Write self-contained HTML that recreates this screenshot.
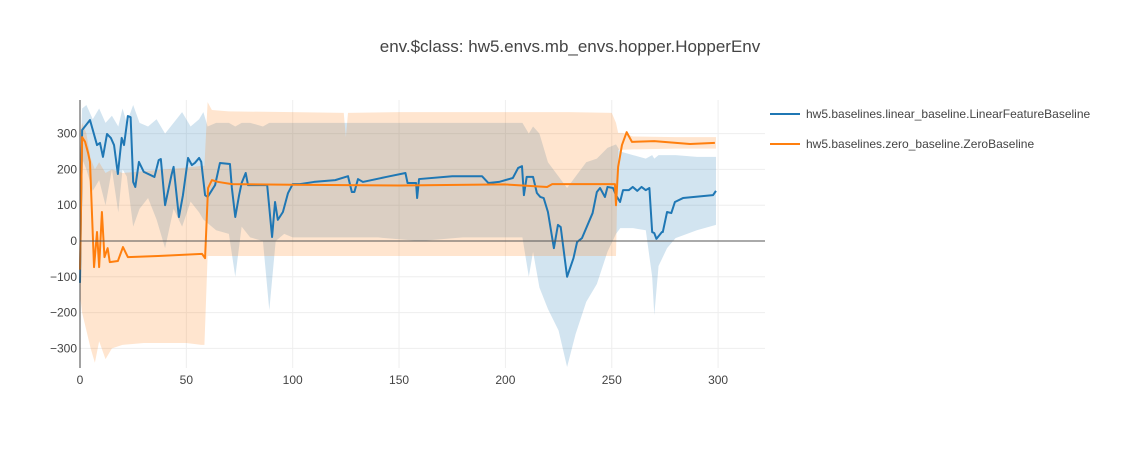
<!DOCTYPE html>
<html><head><meta charset="utf-8">
<style>
body{margin:0;background:#fff;font-family:"Liberation Sans",Arial,sans-serif;}
svg text{font-family:"Liberation Sans",Arial,sans-serif;}
</style></head>
<body>
<svg id="chart" width="1140" height="450" xmlns="http://www.w3.org/2000/svg">
<text x="570" y="52" text-anchor="middle" font-size="17" fill="#444">env.$class: hw5.envs.mb_envs.hopper.HopperEnv</text>
<g id="grid"></g>
<g id="bands"></g>
<g id="lines"></g>
<g id="axes"></g>
<g>
<g>
<line x1="770" y1="114" x2="800" y2="114" stroke="#1f77b4" stroke-width="2"/>
<text x="806" y="118" font-size="12" fill="#444">hw5.baselines.linear_baseline.LinearFeatureBaseline</text></g>
<g>
<line x1="770" y1="144" x2="800" y2="144" stroke="#ff7f0e" stroke-width="2"/>
<text x="806" y="148" font-size="12" fill="#444">hw5.baselines.zero_baseline.ZeroBaseline</text></g>
</g>
</svg>
<script>
const xTicks=[0,50,100,150,200,250,300];
const yTicks=[-300,-200,-100,0,100,200,300];
const yTickLabels=["−300","−200","−100","0","100","200","300"];
const blueX=[0,1,4.7,8,9.4,10.8,12.7,14.5,16,17.8,19.6,20.7,22.5,23.8,25,26,27.7,30,35,37,38,40,43,44,46.5,48.4,50.8,52.6,54,56,57,58.8,60,63.5,65.8,70.5,71.4,73,74.8,76,77.9,79,88,90.3,91.7,93,95.4,97.8,100,103.4,110,120,126,127.8,129,130.7,133,144,153,154,158,158.5,159.4,175,189,192,197,203.5,206,207.8,208.7,210,213,214.8,216.4,218,220,222.8,224.7,226,229,232,233.7,236,241,243,244.5,246.8,248,250.6,252,253.9,255.3,258,259.9,262,264,266,267.7,269,270,271,273.6,274,276,278,279.7,283.5,297.6,299];
const blueY=[-117,310,338,268,274,235,299,288,268,187,288,268,349,346,165,151,221,193,179,226,229,100,184,207,67,128,232,212,218,232,221,128,123,156,218,215,148,67,128,162,190,156,156,11,109,59,81,134,159,159,165,170,181,137,137,173,165,179,190,162,162,120,173,181,181,162,165,176,204,209,128,179,179,134,123,120,81,-20,45,39,-100,-48,-3,8,78,137,148,123,151,148,128,109,142,142,151,140,151,142,148,25,22,6,25,25,81,78,109,120,128,140];
const orangeX=[0,1,2.4,3.8,4.7,6.6,8,9,10.3,11.5,13,14,17.8,20.2,22.5,36.7,57.4,58.8,60.2,62,65,71.4,100,150,200,219.6,222,250,251.5,252,253,254.8,257,259.5,270,286.8,298.5];
const orangeY=[-80,290,277,246,221,-73,25,-73,81,-45,-20,-59,-56,-17,-45,-42,-36,-48,148,170,165,159,157,155,158,151,159,159,159,100,207,268,304,277,279,271,274];
const blueBandX=[0,1,3,6,9,12,15,18,20,22,25,28,32,36,40,44,48,52,56,58,60,64,70,73,76,80,86,89,92,96,100,120,140,160,180,200,208,211,213,216,220,225,229,233,238,243,248,252,254,260,266,269,270,272,276,280,290,299];
const blueBandHi=[200,370,380,340,370,330,350,320,370,330,380,330,320,340,300,330,360,320,340,360,320,330,330,320,330,330,320,330,330,330,330,330,330,330,330,330,330,300,320,300,220,180,148,180,220,230,260,270,250,240,230,240,230,240,240,240,235,235];
const blueBandLo=[-120,230,200,140,170,100,200,80,200,180,40,90,120,60,-20,90,40,110,80,60,50,30,20,-100,40,10,0,-193,0,20,10,10,10,0,10,10,10,-100,-30,-130,-190,-250,-352,-260,-170,-120,-30,20,36,36,30,-100,-207,-70,-20,8,30,45];
const orangeBandX=[0,1,3,5,7,9,12,15,20,30,40,50,57,58.5,60,62,70,100,124,125,126,150,200,230,250,252,253,255,260,280,299];
const orangeBandHi=[300,330,300,230,200,220,190,200,190,195,200,205,210,210,388,366,362,360,358,290,358,360,360,360,358,330,302,302,292,290,290];
const orangeBandLo=[-150,-200,-250,-300,-340,-280,-330,-300,-290,-285,-285,-285,-290,-290,-42,-42,-42,-42,-42,-42,-42,-42,-42,-42,-42,-42,255,255,256,258,258];

const X0=80,XS=2.127,Y0=241,YS=0.358,PT=100,PB=368,PL=80,PR=765;
const sx=v=>X0+v*XS, sy=v=>Y0-v*YS;
const NS="http://www.w3.org/2000/svg";
function mk(tag,attrs,parent){const e=document.createElementNS(NS,tag);for(const k in attrs)e.setAttribute(k,attrs[k]);parent.appendChild(e);return e;}
const grid=document.getElementById('grid'),axes=document.getElementById('axes'),bands=document.getElementById('bands'),lines=document.getElementById('lines');
xTicks.forEach(t=>{
 if(t>0){const g=mk('line',{x1:sx(t),x2:sx(t),y1:PT,y2:PB,stroke:'#eee','stroke-width':1},grid);
 
 }
 const l=mk('text',{x:sx(t),y:384,'text-anchor':'middle','font-size':12,fill:'#444'},axes);l.textContent=t;
 
 
});
yTicks.forEach((t,i)=>{
 if(t!==0){const g=mk('line',{x1:PL,x2:PR,y1:sy(t),y2:sy(t),stroke:'#eee','stroke-width':1},grid);
 
 }
 const l=mk('text',{x:PL-3,y:sy(t)+4,'text-anchor':'end','font-size':12,fill:'#444'},axes);l.textContent=yTickLabels[i];
 
 
});
function band(xs,hi,lo,color,name){
 let d='M'+xs.map((x,i)=>sx(x)+','+sy(hi[i])).join('L');
 for(let i=xs.length-1;i>=0;i--)d+='L'+sx(xs[i])+','+sy(lo[i]);
 const p=mk('path',{d:d+'Z',fill:color,'fill-opacity':0.2,stroke:'none'},bands);
 
 
}
band(blueBandX,blueBandHi,blueBandLo,'#1f77b4','band-linear-baseline');
band(orangeBandX,orangeBandHi,orangeBandLo,'#ff7f0e','band-zero-baseline');
const zl=mk('line',{x1:PL,x2:PR,y1:sy(0),y2:sy(0),stroke:'#555','stroke-width':1},axes);


const ya=mk('line',{x1:PL,x2:PL,y1:PT,y2:PB,stroke:'#444','stroke-width':1},axes);


function line(xs,ys,color,name){
 const p=mk('path',{d:'M'+xs.map((x,i)=>sx(x)+','+sy(ys[i])).join('L'),fill:'none',stroke:color,'stroke-width':2,'stroke-linejoin':'round'},lines);
 
 
}
line(blueX,blueY,'#1f77b4','line-linear-baseline');
line(orangeX,orangeY,'#ff7f0e','line-zero-baseline');
</script>
</body></html>
